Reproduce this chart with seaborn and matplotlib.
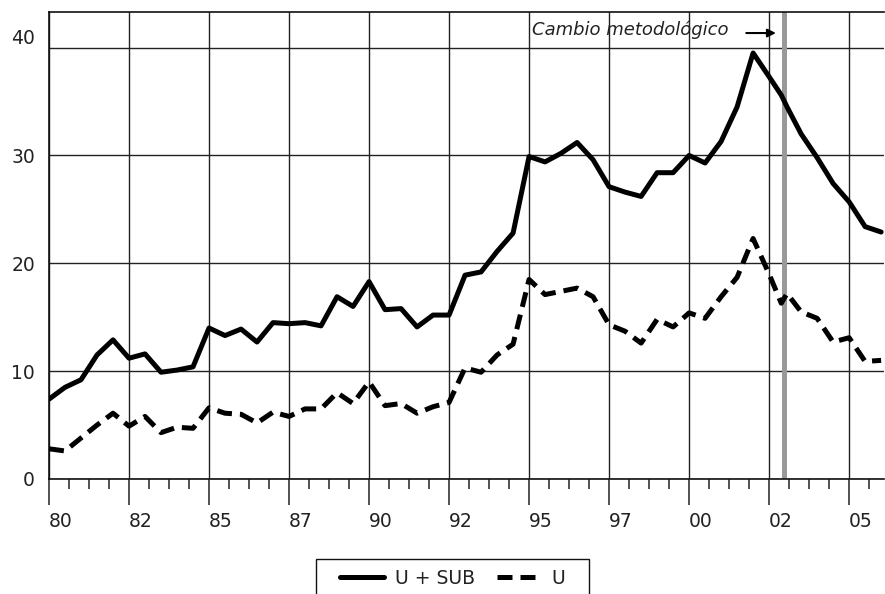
import numpy as np
import pandas as pd
import matplotlib
matplotlib.use("Agg")
import matplotlib.pyplot as plt
import matplotlib.transforms as mtransforms
from matplotlib.lines import Line2D
from matplotlib.patches import Rectangle
import seaborn as sns

# semestres 1980-2006 (dos puntos alrededor del cambio metodologico de 2003)
years = [1980.0, 1980.5, 1981.0, 1981.5, 1982.0, 1982.5, 1983.0, 1983.5, 1984.0, 1984.5,
         1985.0, 1985.5, 1986.0, 1986.5, 1987.0, 1987.5, 1988.0, 1988.5, 1989.0, 1989.5,
         1990.0, 1990.5, 1991.0, 1991.5, 1992.0, 1992.5, 1993.0, 1993.5, 1994.0, 1994.5,
         1995.0, 1995.5, 1996.0, 1996.5, 1997.0, 1997.5, 1998.0, 1998.5, 1999.0, 1999.5,
         2000.0, 2000.5, 2001.0, 2001.5, 2002.0, 2002.5, 2002.88, 2003.06, 2003.5, 2004.0,
         2004.5, 2005.0, 2005.5, 2006.0]

u_sub = [7.4, 8.5, 9.2, 11.5, 12.9, 11.2, 11.6, 9.9, 10.1, 10.4,
         14.0, 13.3, 13.9, 12.7, 14.5, 14.4, 14.5, 14.2, 16.9, 16.0,
         18.3, 15.7, 15.8, 14.1, 15.2, 15.2, 18.9, 19.2, 21.1, 22.8,
         29.9, 29.4, 30.2, 31.2, 29.6, 27.1, 26.6, 26.2, 28.4, 28.4,
         30.0, 29.3, 31.3, 34.5, 39.5, 37.3, 35.6, 34.5, 32.0, 29.8,
         27.4, 25.7, 23.4, 22.9]

u = [2.8, 2.6, 3.8, 5.0, 6.1, 4.9, 5.8, 4.3, 4.8, 4.7,
     6.6, 6.1, 6.0, 5.2, 6.2, 5.8, 6.5, 6.5, 8.0, 7.0,
     9.0, 6.8, 7.0, 6.1, 6.7, 7.1, 10.3, 9.9, 11.5, 12.5,
     18.5, 17.1, 17.4, 17.7, 16.9, 14.3, 13.7, 12.6, 14.8, 14.1,
     15.4, 14.9, 16.9, 18.7, 22.3, 19.0, 16.3, 17.2, 15.5, 14.9,
     12.7, 13.1, 10.9, 11.0]

xtick_pos = [1980, 1982.5, 1985, 1987.5, 1990, 1992.5, 1995, 1997.5, 2000, 2002.5, 2005]
xtick_labels = ["80", "82", "85", "87", "90", "92", "95", "97", "00", "02", "05"]
yticks = [0, 10, 20, 30, 40]
cambio = (2002.9, 2003.05)

df = pd.DataFrame({
    "year": years * 2,
    "valor": u_sub + u,
    "serie": ["U + SUB"] * len(years) + ["U"] * len(years),
})

sns.set_theme(style="white")
plt.rcParams["font.family"] = ["DejaVu Sans"]
txt_color = "#222222"

fig = plt.figure(figsize=(8.85, 5.94), dpi=100)
ax = fig.add_axes([49 / 885, 1 - 479 / 594, (884 - 49) / 885, (479 - 12) / 594])

ax.axvspan(cambio[0], cambio[1], color="#999999", lw=0, zorder=1.5)
sns.lineplot(data=df, x="year", y="valor", style="serie",
             dashes={"U + SUB": "", "U": (3, 1.6)},
             color="black", lw=3.6, legend=False, ax=ax, zorder=3)

ax.set_xlim(1980, 2006.09)
ax.set_ylim(0, 43.3)
ax.set_xlabel("")
ax.set_ylabel("")

ax.set_xticks(xtick_pos)
ax.set_xticklabels(xtick_labels, ha="left")
ax.set_xticks(np.arange(1980, 2006.1, 0.625), minor=True)
ax.set_yticks(yticks)
ax.set_yticklabels([str(v) for v in yticks])

ax.set_axisbelow(True)
ax.grid(True, which="major", color="#222222", lw=1.0)
ax.tick_params(axis="x", which="major", bottom=True, direction="out", length=18.7,
               width=1.1, color="#222222", pad=5, labelsize=13.5, labelcolor=txt_color)
ax.tick_params(axis="x", which="minor", bottom=True, direction="out", length=7.2,
               width=1.1, color="#222222")
ax.tick_params(axis="y", length=0, pad=10, labelsize=13.5, labelcolor=txt_color)

for side in ["left", "bottom", "top"]:
    ax.spines[side].set_color("#111111")
    ax.spines[side].set_linewidth(1.2)
ax.spines["right"].set_visible(False)

# la etiqueta 40 aparece algo mas arriba en el original
for lbl in ax.get_yticklabels():
    if lbl.get_text() == "40":
        lbl.set_transform(lbl.get_transform() +
                          mtransforms.ScaledTranslation(0, 0.11, fig.dpi_scale_trans))

ax.text(1995.09, 41.2, "Cambio metodológico", style="italic", fontsize=13,
        color=txt_color, va="baseline", ha="left")
ax.annotate("", xy=(2002.8, 41.35), xytext=(2001.7, 41.35),
            arrowprops=dict(arrowstyle="-|>", color="black", lw=1.5, mutation_scale=12))

# leyenda abajo, el recuadro sigue por debajo del borde de la figura
handles = [Line2D([], [], color="black", lw=3.6),
           Line2D([], [], color="black", lw=3.6, linestyle=(0, (3, 1.6)))]
leg = fig.legend(handles, ["U + SUB", "U"], loc="center",
                 bbox_to_anchor=(453 / 885, 1 - 578 / 594), ncol=2,
                 frameon=False, fontsize=13.5, handlelength=2.3,
                 handletextpad=0.6, columnspacing=1.2, borderaxespad=0)
for t in leg.get_texts():
    t.set_color(txt_color)
fig.patches.append(Rectangle((316 / 885, 1 - 610 / 594), (589 - 316) / 885, 51 / 594,
                             transform=fig.transFigure, fill=False,
                             edgecolor="#111111", lw=1.0))

fig.savefig("out.png", dpi=100)
